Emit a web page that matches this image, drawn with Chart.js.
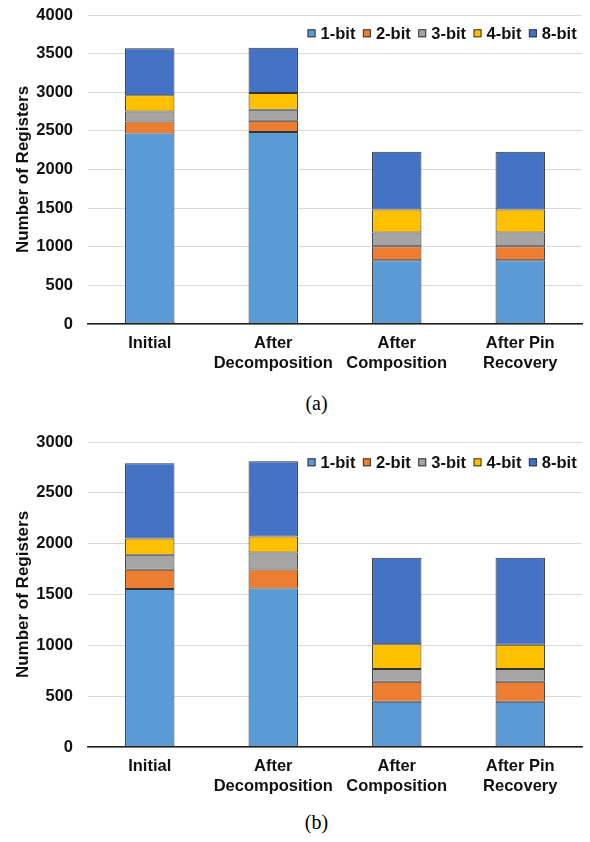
<!DOCTYPE html>
<html>
<head>
<meta charset="utf-8">
<script src="https://cdn.jsdelivr.net/npm/chart.js@4/dist/chart.umd.min.js"></script>
<style>
  html, body { margin: 0; padding: 0; background: #fff; }
  body { width: 590px; height: 842px; position: relative; overflow: hidden; }
  .wrap { position: absolute; left: 0; width: 590px; }
  .cap { position: absolute; left: 0; width: 633px; text-align: center;
         font-family: 'Liberation Serif', 'Times New Roman', serif; font-size: 20px; line-height: 20px; color: #000; }
</style>
</head>
<body>
<div class="wrap" style="top:0;height:374px;"><canvas id="chartA" width="590" height="374"></canvas></div>
<div class="cap" style="top:393px;">(a)</div>
<div class="wrap" style="top:427px;height:370px;"><canvas id="chartB" width="590" height="370"></canvas></div>
<div class="cap" style="top:812px;">(b)</div>
<script>
// ---- data ----
const categories = [['Initial'], ['After', 'Decomposition'], ['After', 'Composition'], ['After Pin', 'Recovery']];
const seriesNames = ['1-bit', '2-bit', '3-bit', '4-bit', '8-bit'];
const seriesColors = ['#5B9BD5', '#ED7D31', '#A5A5A5', '#FFC000', '#4472C4'];

// chart (a)
const bit1A = [2467, 2484, 825, 825];
const bit2A = [155, 146, 182, 182];
const bit3A = [130, 143, 177, 177];
const bit4A = [208, 216, 298, 298];
const bit8A = [610, 587, 747, 747];
const yTicksA = { max: 4000, step: 500 };

// chart (b)
const bit1B = [1553, 1559, 446, 446];
const bit2B = [190, 187, 197, 197];
const bit3B = [148, 167, 125, 125];
const bit4B = [160, 158, 243, 237];
const bit8B = [739, 739, 850, 856];
const yTicksB = { max: 3000, step: 500 };

const yTitle = 'Number of Registers';
const FONT = "'Liberation Sans', Arial, sans-serif";

// custom in-plot legend (drawn from dataset labels / colours)
const insideLegend = {
  id: 'insideLegend',
  afterDraw(chart, args, opts) {
    const ctx = chart.ctx;
    const area = chart.chartArea;
    const box = 8, gapText = 5, gapItem = 7.5;
    ctx.save();
    ctx.font = 'bold 16.5px ' + FONT;
    ctx.textBaseline = 'middle';
    ctx.textAlign = 'left';
    const items = chart.data.datasets.map(d => ({ text: d.label, color: d.backgroundColor, w: ctx.measureText(d.label).width }));
    let total = 0;
    items.forEach((it, i) => { total += box + gapText + it.w + (i < items.length - 1 ? gapItem : 0); });
    let x = area.right - opts.rightInset - total;
    const y = area.top + opts.yOffset;
    items.forEach(it => {
      ctx.fillStyle = it.color;
      ctx.fillRect(x, y - box / 2, box, box);
      ctx.strokeStyle = '#333';
      ctx.lineWidth = 1;
      ctx.strokeRect(x + 0.5, y - box / 2 + 0.5, box - 1, box - 1);
      ctx.fillStyle = '#111';
      ctx.fillText(it.text, x + box + gapText, y + 1);
      x += box + gapText + it.w + gapItem;
    });
    ctx.restore();
  }
};

function makeChart(id, series, ticks, legendY) {
  const datasets = series.map((vals, i) => ({
    label: seriesNames[i],
    data: vals,
    backgroundColor: seriesColors[i],
    borderColor: '#333333',
    borderWidth: 1,
    borderSkipped: false,
    categoryPercentage: 1.0,
    barPercentage: 0.4
  }));
  return new Chart(document.getElementById(id), {
    type: 'bar',
    data: { labels: categories, datasets },
    plugins: [insideLegend],
    options: {
      responsive: false,
      animation: false,
      layout: { padding: { top: 15, right: 8, bottom: 0, left: 0 } },
      plugins: {
        legend: { display: false },
        tooltip: { enabled: false },
        insideLegend: { yOffset: legendY, rightInset: 5.3 }
      },
      scales: {
        x: {
          stacked: true,
          grid: { display: false, drawTicks: false },
          border: { display: true, color: '#1a1a1a', width: 1.5 },
          ticks: { color: '#111', padding: 10, autoSkip: false, maxRotation: 0, minRotation: 0,
                   font: { family: FONT, size: 16.5, weight: 'bold', lineHeight: 1.2 } },
          afterFit(scale) { scale.height = 50; }
        },
        y: {
          stacked: true,
          min: 0,
          max: ticks.max,
          grid: { color: '#d9d9d9', lineWidth: 1, drawTicks: false },
          border: { display: false },
          ticks: { stepSize: ticks.step, color: '#111', padding: 15,
                   callback: (v) => String(v),
                   font: { family: FONT, size: 16.5, weight: 'bold' } },
          title: { display: true, text: yTitle, color: '#111', padding: { top: 13, bottom: 0 }, font: { family: FONT, size: 17, weight: 'bold' } },
          afterFit(scale) { scale.width = 88; scale.paddingTop = 0; scale.paddingBottom = 0; }
        }
      }
    }
  });
}

makeChart('chartA', [bit1A, bit2A, bit3A, bit4A, bit8A], yTicksA, 18.3);
makeChart('chartB', [bit1B, bit2B, bit3B, bit4B, bit8B], yTicksB, 20.3);
</script>
</body>
</html>
